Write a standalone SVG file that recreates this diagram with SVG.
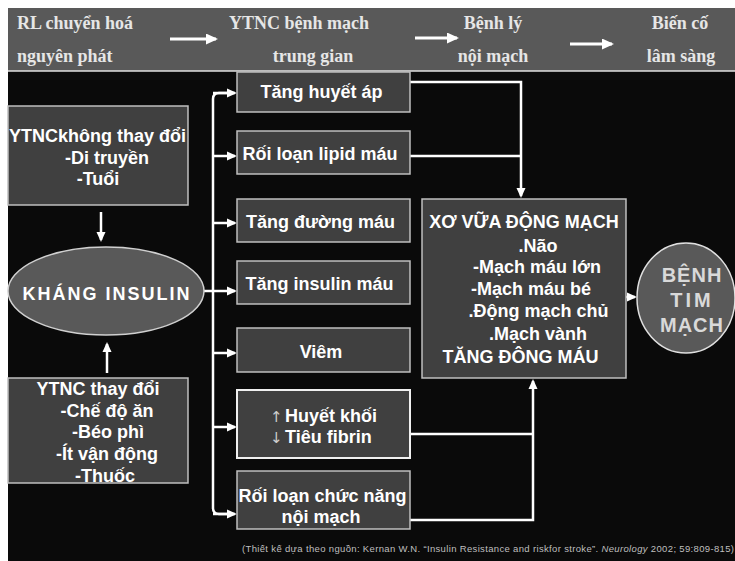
<svg xmlns="http://www.w3.org/2000/svg" width="735" height="561" viewBox="0 0 735 561">
<defs>
<marker id="ah" markerUnits="userSpaceOnUse" markerWidth="10" markerHeight="10" viewBox="0 0 10 10" refX="8" refY="5" orient="auto"><path d="M0,0.5 L10,5 L0,9.5 Z" fill="#fff"/></marker>
<marker id="ahb" markerUnits="userSpaceOnUse" markerWidth="12" markerHeight="11" viewBox="0 0 12 11" refX="10" refY="5.5" orient="auto"><path d="M0,0 L12,5.5 L0,11 Z" fill="#fff"/></marker>
</defs>
<style>
.box{fill:#404040;stroke:#bfbfbf;stroke-width:1.5}
.t{font-family:"Liberation Sans",Arial,sans-serif;font-weight:bold;fill:#fff;font-size:18px}
.m{text-anchor:middle}
.h{font-family:"Liberation Serif","Times New Roman",serif;font-weight:bold;fill:#e6e6e6;font-size:18px}
.c{fill:none;stroke:#fff;stroke-width:2.5}
.hc{fill:none;stroke:#fff;stroke-width:3}
</style>
<rect width="735" height="561" fill="#fff"/>
<rect x="8" y="8" width="727" height="553" fill="#0a0a0a"/>
<g id="header">
<rect x="8" y="8" width="727" height="63" fill="#595959"/>
<line x1="8" y1="71" x2="735" y2="71" stroke="#e0e0e0" stroke-width="1.5"/>
<text class="h" x="17" y="29">RL chuyển hoá</text>
<text class="h" x="17" y="62">nguyên phát</text>
<text class="h m" x="299" y="29">YTNC bệnh mạch</text>
<text class="h m" x="313" y="62">trung gian</text>
<text class="h m" x="493" y="29">Bệnh lý</text>
<text class="h m" x="493" y="62">nội mạch</text>
<text class="h m" x="680" y="29">Biến cố</text>
<text class="h m" x="681" y="62">lâm sàng</text>
<line class="hc" x1="170" y1="39" x2="216" y2="39" marker-end="url(#ahb)"/>
<line class="hc" x1="415" y1="38" x2="457" y2="38" marker-end="url(#ahb)"/>
<line class="hc" x1="570" y1="44" x2="612" y2="44" marker-end="url(#ahb)"/>
</g>
<g id="connectors">
<path class="c" d="M230,93 H219 Q213,93 213,99 V508 Q213,514 219,514 H230"/>
<line class="c" x1="213" y1="93" x2="235" y2="93" marker-end="url(#ah)"/>
<line class="c" x1="213" y1="156" x2="235" y2="156" marker-end="url(#ah)"/>
<line class="c" x1="213" y1="223" x2="235" y2="223" marker-end="url(#ah)"/>
<line class="c" x1="204" y1="291" x2="235" y2="291" marker-end="url(#ah)"/>
<line class="c" x1="213" y1="353" x2="235" y2="353" marker-end="url(#ah)"/>
<line class="c" x1="213" y1="427" x2="235" y2="427" marker-end="url(#ah)"/>
<line class="c" x1="213" y1="514" x2="235" y2="514" marker-end="url(#ah)"/>
<line class="c" x1="101" y1="212" x2="101" y2="240" marker-end="url(#ah)"/>
<line class="c" x1="107" y1="373" x2="107" y2="344" marker-end="url(#ah)"/>
<path class="c" d="M410,82 H521 V196" marker-end="url(#ah)"/>
<line class="c" x1="410" y1="156" x2="521" y2="156"/>
<path class="c" d="M410,520 H533 V381" marker-end="url(#ah)"/>
<line class="c" x1="410" y1="434" x2="533" y2="434"/>
<line class="c" x1="626" y1="297" x2="635" y2="297" marker-end="url(#ah)"/>
</g>
<g id="ytnc-khong-thay-doi">
<rect class="box" x="8" y="106" width="180" height="99"/>
<text class="t m" x="97.5" y="142">YTNCkhông thay đổi</text>
<text class="t m" x="107" y="164">-Di truyền</text>
<text class="t m" x="98" y="185">-Tuổi</text>
</g>
<g id="khang-insulin">
<ellipse cx="106" cy="291" rx="98" ry="44" fill="#595959" stroke="#d0d0d0" stroke-width="1.5"/>
<text class="t m" x="107" y="300" style="font-size:18px;letter-spacing:2px">KHÁNG INSULIN</text>
</g>
<g id="ytnc-thay-doi">
<rect class="box" x="8" y="378" width="180" height="105"/>
<text class="t m" x="98" y="395">YTNC thay đổi</text>
<text class="t m" x="107" y="417">-Chế độ ăn</text>
<text class="t m" x="108" y="438">-Béo phì</text>
<text class="t m" x="107" y="460">-Ít vận động</text>
<text class="t m" x="105" y="482">-Thuốc</text>
</g>
<g id="tang-huyet-ap">
<rect class="box" x="237" y="72" width="173" height="40"/>
<text class="t m" x="321.5" y="98">Tăng huyết áp</text>
</g>
<g id="roi-loan-lipid">
<rect class="box" x="237" y="131" width="173" height="43"/>
<text class="t m" x="320" y="160">Rối loạn lipid máu</text>
</g>
<g id="tang-duong-mau">
<rect class="box" x="237" y="199" width="173" height="43"/>
<text class="t m" x="320.5" y="228">Tăng đường máu</text>
</g>
<g id="tang-insulin-mau">
<rect class="box" x="237" y="261" width="173" height="43"/>
<text class="t m" x="319.5" y="290">Tăng insulin máu</text>
</g>
<g id="viem">
<rect class="box" x="237" y="328" width="173" height="44"/>
<text class="t m" x="321" y="358">Viêm</text>
</g>
<g id="huyet-khoi">
<rect x="237" y="390" width="173" height="68" fill="#404040" stroke="#f0f0f0" stroke-width="2"/>
<text x="270" y="422" style="font-family:'DejaVu Sans',sans-serif;font-size:15px;fill:#cfcfcf">↑</text>
<text class="t" x="285" y="422">Huyết khối</text>
<text x="270" y="443" style="font-family:'DejaVu Sans',sans-serif;font-size:15px;fill:#cfcfcf">↓</text>
<text class="t" x="285" y="443">Tiêu fibrin</text>
</g>
<g id="roi-loan-chuc-nang">
<rect class="box" x="237" y="471" width="173" height="58"/>
<text class="t m" x="322.5" y="502">Rối loạn chức năng</text>
<text class="t m" x="321" y="523">nội mạch</text>
</g>
<g id="xo-vua">
<rect class="box" x="422" y="199" width="204" height="179"/>
<text class="t m" x="524" y="228">XƠ VỮA ĐỘNG MẠCH</text>
<text class="t m" x="538" y="252">.Não</text>
<text class="t m" x="537" y="273">-Mạch máu lớn</text>
<text class="t m" x="531" y="295">-Mạch máu bé</text>
<text class="t m" x="538.5" y="317">.Động mạch chủ</text>
<text class="t m" x="538" y="340">.Mạch vành</text>
<text class="t m" x="520.5" y="363">TĂNG ĐÔNG MÁU</text>
</g>
<g id="benh-tim-mach">
<ellipse cx="686" cy="298" rx="49" ry="55" fill="#595959" stroke="#e0e0e0" stroke-width="1.5"/>
<text class="t m" x="692" y="282" style="font-size:20px;fill:#d9d9d9;letter-spacing:1px">BỆNH</text>
<text class="t m" x="692" y="307" style="font-size:20px;fill:#d9d9d9;letter-spacing:3px">TIM</text>
<text class="t m" x="692" y="332" style="font-size:20px;fill:#d9d9d9;letter-spacing:1px">MẠCH</text>
</g>
<g id="citation">
<text x="242" y="552" textLength="492" lengthAdjust="spacing" style="font-family:'Liberation Sans',Arial,sans-serif;font-size:9.5px;fill:#bfbfbf">(Thiết kế dựa theo nguồn: Kernan W.N. “Insulin Resistance and riskfor stroke”. <tspan font-style="italic">Neurology</tspan> 2002; 59:809-815)</text>
</g>
</svg>
